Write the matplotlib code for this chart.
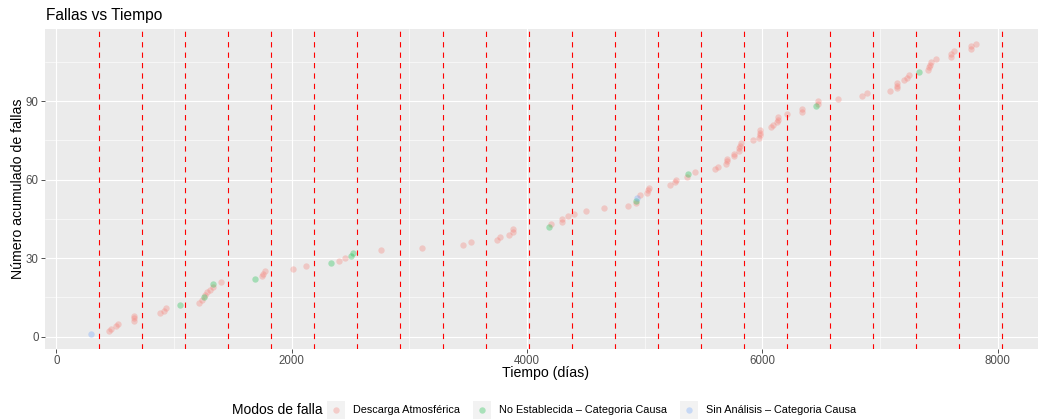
import matplotlib
matplotlib.use('Agg')
import matplotlib.pyplot as plt
from matplotlib.patches import Rectangle

# ---------------- data ----------------
tiempo = [292, 450, 465, 510, 527, 660, 660, 660, 881, 915,
          935, 1049, 1210, 1238, 1253, 1264, 1283, 1306, 1332, 1332,
          1397, 1691, 1745, 1754, 1776, 2009, 2122, 2337, 2400, 2456,
          2507, 2524, 2762, 3108, 3459, 3521, 3748, 3770, 3850, 3884,
          3884, 4189, 4201, 4297, 4297, 4348, 4399, 4501, 4658, 4856,
          4924, 4926, 4937, 4964, 5020, 5028, 5037, 5215, 5260, 5266,
          5357, 5370, 5430, 5600, 5620, 5691, 5699, 5702, 5756, 5759,
          5801, 5804, 5812, 5821, 5923, 5969, 5982, 5982, 5982, 6076,
          6093, 6122, 6133, 6133, 6212, 6334, 6334, 6458, 6473, 6473,
          6643, 6849, 6892, 7085, 7144, 7144, 7144, 7203, 7232, 7246,
          7328, 7407, 7416, 7424, 7433, 7478, 7600, 7606, 7629, 7777,
          7777, 7815]
acumulado = list(range(1, len(tiempo) + 1))

categorias = ["Descarga Atmosférica",
              "No Establecida – Categoria Causa",
              "Sin Análisis – Categoria Causa"]
# index of category for each failure (0 = Descarga, 1 = No Establecida, 2 = Sin Análisis)
modo = [2, 0, 0, 0, 0, 0, 0, 0, 0, 0,
        0, 1, 0, 0, 1, 0, 0, 0, 0, 1,
        0, 1, 0, 0, 0, 0, 0, 1, 0, 0,
        1, 1, 0, 0, 0, 0, 0, 0, 0, 0,
        0, 1, 0, 0, 0, 0, 0, 0, 0, 0,
        0, 1, 2, 0, 0, 0, 0, 0, 0, 0,
        0, 1, 0, 0, 0, 0, 0, 0, 0, 0,
        0, 0, 0, 0, 0, 0, 0, 0, 0, 0,
        0, 0, 0, 0, 0, 0, 0, 1, 0, 0,
        0, 0, 0, 0, 0, 0, 0, 0, 0, 0,
        1, 0, 0, 0, 0, 0, 0, 0, 0, 0,
        0, 0]
colores = ["#F8766D", "#00BA38", "#619CFF"]

anios = list(range(1, 23))          # yearly reference lines
dias_anio = 365.25

x_ticks = [0, 2000, 4000, 6000, 8000]
x_minor = [1000, 3000, 5000, 7000]
y_ticks = [0, 30, 60, 90]
y_minor = [15, 45, 75, 105]

# ---------------- figure ----------------
W, H = 1038, 419
FONT = ['Liberation Sans', 'DejaVu Sans']
plt.rcParams['font.family'] = FONT
plt.rcParams['lines.scale_dashes'] = False

fig = plt.figure(figsize=(W / 100, H / 100), dpi=100)

def fx(x):
    return x / W

def fy(y):
    return 1 - y / H

left, right, top, bottom = 45, 1047, 29, 348.7
ax = fig.add_axes([fx(left), fy(bottom), fx(right) - fx(left), fy(top) - fy(bottom)])
ax.set_facecolor('#EBEBEB')
for s in ax.spines.values():
    s.set_visible(False)

ax.set_xlim(-96, 8419)
ax.set_ylim(-4.6, 117.6)

ax.set_xticks(x_ticks)
ax.set_xticks(x_minor, minor=True)
ax.set_yticks(y_ticks)
ax.set_yticks(y_minor, minor=True)
ax.grid(which='major', color='white', linewidth=0.8)
ax.grid(which='minor', color='white', linewidth=0.4)
ax.set_axisbelow(True)
ax.tick_params(which='major', length=2.7, width=0.6, color='#333333',
               labelsize=8.3, labelcolor='#4D4D4D', pad=1.8)
ax.tick_params(which='minor', length=0)

for c in range(len(categorias)):
    xs = [t for t, m in zip(tiempo, modo) if m == c]
    ys = [n for n, m in zip(acumulado, modo) if m == c]
    ax.scatter(xs, ys, s=21, color=colores[c], alpha=0.3, linewidths=0, zorder=2)

for k in anios:
    ax.axvline(k * dias_anio, color='red', linewidth=0.8,
               linestyle=(0, (3.8, 3.7)), zorder=3)

# axis titles
fig.text(fx((left + right) / 2), fy(376.7), "Tiempo (días)", ha='center', va='baseline',
         fontsize=10.2, color='black')
fig.text(fx(22), fy((top + bottom) / 2), "Número acumulado de fallas", rotation=90,
         rotation_mode='anchor', ha='center', va='baseline', fontsize=10.2, color='black')
fig.text(fx(45.7), fy(20), "Fallas vs Tiempo", ha='left', va='baseline',
         fontsize=11.2, color='black')

# legend (bottom)
ly = 410
fig.text(fx(232), fy(ly + 3.6), "Modos de falla", ha='left', va='baseline',
         fontsize=10.0, color='black')
key_cx = [336, 482, 689]
for c, cx in enumerate(key_cx):
    fig.patches.append(Rectangle((fx(cx - 8.6), fy(ly + 8.6)), 17.2 / W, 17.2 / H,
                                 transform=fig.transFigure, facecolor='#F2F2F2',
                                 edgecolor='none'))
    fig.add_artist(plt.Line2D([fx(cx)], [fy(ly)], marker='o', markersize=4.6,
                              color=colores[c], alpha=0.3, markeredgewidth=0,
                              linestyle='none', transform=fig.transFigure))
    fig.text(fx(cx + 17), fy(ly + 2.8), categorias[c], ha='left', va='baseline',
             fontsize=7.8, color='black')

fig.savefig('out.png', dpi=100)
